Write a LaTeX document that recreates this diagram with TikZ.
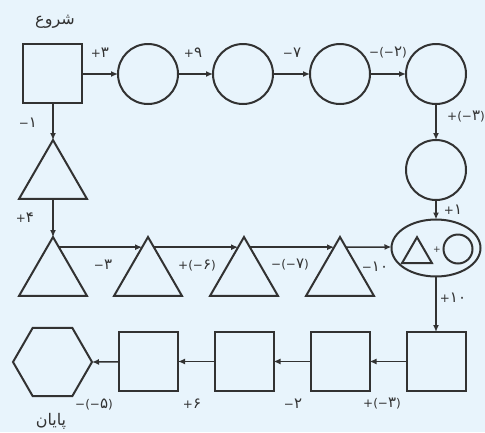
\documentclass[tikz,border=0pt]{standalone}
\usepackage{fontspec}
\TeXXeTstate=1
\newfontfamily\arabicfont[Script=Arabic]{DejaVu Sans}
\newfontfamily\numfont{DejaVu Sans}
\newcommand\dgt[1]{{\fontsize{15}{14}\selectfont #1}}
\usetikzlibrary{shapes.geometric,arrows.meta,calc}
\definecolor{bg}{RGB}{232,244,252}
\definecolor{ink}{RGB}{50,50,50}
\tikzset{
  shp/.style={draw=ink,line width=2pt,inner sep=0pt,outer sep=0pt},
  sq/.style={shp,rectangle,minimum size=59pt},
  circ/.style={shp,circle,minimum size=60pt},
  tri/.style={shp,regular polygon,regular polygon sides=3,minimum size=78.5pt},
  hexa/.style={shp,regular polygon,regular polygon sides=6,minimum size=79pt},
  ell/.style={shp,ellipse,minimum width=89pt,minimum height=57pt},
  arr/.style={draw=ink,line width=1.5pt,-{Latex[length=7pt,width=6pt]}},
  lbl/.style={text=ink,font=\numfont\fontsize{12}{14}\selectfont,inner sep=0pt},
  ttl/.style={text=ink,font=\arabicfont\fontsize{16}{18}\selectfont,inner sep=0pt}
}
\begin{document}
\begin{tikzpicture}[x=1pt,y=-1pt]
\fill[bg] (0,0) rectangle (485,432);
\useasboundingbox (0,0) rectangle (485,432);
% top row
\node[sq] (s0) at (52.5,73.5) {};
\node[circ] (c1) at (148,74) {};
\node[circ] (c2) at (243,74) {};
\node[circ] (c3) at (340,74) {};
\node[circ] (c4) at (436,74) {};
\node[circ] (c5) at (436,170) {};
\node[ell] (e) at (436,248) {};
% ellipse content
\node[shp,regular polygon,regular polygon sides=3,minimum size=34.6pt] (it) at (417,254.5) {};
\node[shp,circle,minimum size=29pt] (ic) at (458,249) {};
\node[lbl,font=\numfont\fontsize{9}{10}\selectfont] (ip) at (437,250) {+};
% left column and triangle row
\node[tri] (t1) at (53,179.3) {};
\node[tri] (t2) at (53,276.3) {};
\node[tri] (t3) at (148,276.3) {};
\node[tri] (t4) at (244,276.3) {};
\node[tri] (t5) at (340,276.3) {};
% bottom row
\node[sq] (b1) at (436,361.5) {};
\node[sq] (b2) at (340,361.5) {};
\node[sq] (b3) at (244,361.5) {};
\node[sq] (b4) at (148.5,361.5) {};
\node[hexa] (hx) at (52.5,362) {};
% connectors
\draw[arr] (s0.east |- c1.west) -- (c1.west);
\draw[arr] (c1) -- (c2);
\draw[arr] (c2) -- (c3);
\draw[arr] (c3) -- (c4);
\draw[arr] (c4) -- (c5);
\draw[arr] (c5) -- (e);
\draw[arr] (e) -- (b1);
\draw[arr] (s0.south -| t1.corner 1) -- (t1.corner 1);
\draw[arr] (t1.side 2) -- (t2.corner 1);
\draw[arr] ($(t2.corner 1)!0.172!(t2.corner 3)$) -- ($(t3.corner 1)!0.172!(t3.corner 2)$);
\draw[arr] ($(t3.corner 1)!0.172!(t3.corner 3)$) -- ($(t4.corner 1)!0.172!(t4.corner 2)$);
\draw[arr] ($(t4.corner 1)!0.172!(t4.corner 3)$) -- ($(t5.corner 1)!0.172!(t5.corner 2)$);
\draw[arr] ($(t5.corner 1)!0.172!(t5.corner 3)$) -- (e.west |- 0,247);
\draw[arr] (b1) -- (b2);
\draw[arr] (b2) -- (b3);
\draw[arr] (b3) -- (b4);
\draw[arr] (b4) -- (hx.east);
% labels
\node[ttl] (start) at (55,22) {\beginR شروع\endR};
\node[ttl] (end) at (51,421) {\beginR پایان\endR};
\node[lbl] (l1) at (100,53) {+\dgt{۳}};
\node[lbl] (l2) at (193,53) {+\dgt{۹}};
\node[lbl] (l3) at (292,53) {−\dgt{۷}};
\node[lbl] (l4) at (388,53) {−(−\dgt{۲})};
\node[lbl] (l5) at (466,117) {+(−\dgt{۳})};
\node[lbl] (l6) at (453,210) {+\dgt{۱}};
\node[lbl] (l7) at (453,298) {+\dgt{۱۰}};
\node[lbl] (l8) at (28,123) {−\dgt{۱}};
\node[lbl] (l9) at (25,218) {+\dgt{۴}};
\node[lbl] (l10) at (103,265) {−\dgt{۳}};
\node[lbl] (l11) at (197,265) {+(−\dgt{۶})};
\node[lbl] (l12) at (290,265) {−(−\dgt{۷})};
\node[lbl] (l13) at (375,267) {−\dgt{۱۰}};
\node[lbl] (l14) at (382,404) {+(−\dgt{۳})};
\node[lbl] (l15) at (293,404) {−\dgt{۲}};
\node[lbl] (l16) at (192,404) {+\dgt{۶}};
\node[lbl] (l17) at (94,404) {−(−\dgt{۵})};
\end{tikzpicture}
\end{document}
